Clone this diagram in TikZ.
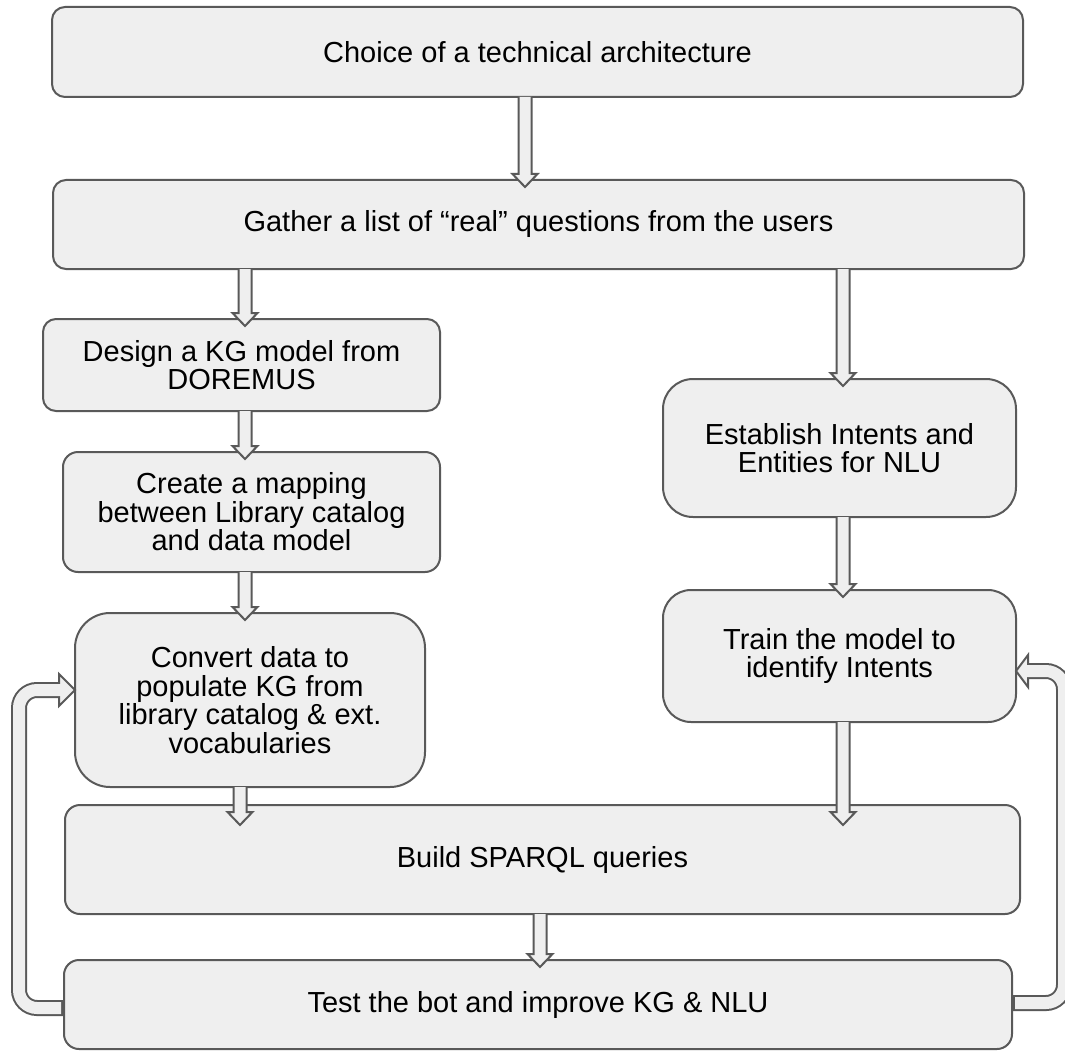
\documentclass[tikz,border=0pt]{standalone}
\usepackage{fontspec}
\setmainfont{Liberation Sans}
\usetikzlibrary{calc}
\definecolor{boxfill}{HTML}{EFEFEF}
\definecolor{bord}{HTML}{595959}
\tikzset{
  box/.style={draw=bord, fill=boxfill, line width=2pt, rounded corners=13pt,
    align=center, inner sep=0pt, outer sep=0pt, text=black,
    font=\fontsize{29}{28.5}\selectfont},
  arr/.style={draw=bord, fill=boxfill, line width=2pt, line join=miter},
}
% vertical block arrow: #1 x, #2 from node, #3 to node, #4 overshoot
\newcommand\varrow[4]{%
  \filldraw[arr] let \p1=(#2.south), \p2=(#3.north) in
   (#1pt-6.5pt,\y1) -- (#1pt-6.5pt,\y2-#4pt+13pt) -- (#1pt-12.5pt,\y2-#4pt+13pt)
   -- (#1pt,\y2-#4pt) -- (#1pt+12.5pt,\y2-#4pt+13pt) -- (#1pt+6.5pt,\y2-#4pt+13pt)
   -- (#1pt+6.5pt,\y1);}
\begin{document}
\begin{tikzpicture}[x=1pt,y=-1pt]
\useasboundingbox (0,0) rectangle (1065,1051);
% loop connector coordinates
\coordinate (lstart) at (64,1008);
\coordinate (rstart) at (1012,1003);
% loops (drawn beneath boxes)
\draw[bord, line width=16pt, rounded corners=18pt] (lstart) -- (19,1008) -- (19,690) -- (59,690);
\draw[bord, line width=16pt, rounded corners=18pt] (rstart) -- (1064,1003) -- (1064,671) -- (1028,671);
% boxes
\node[box, minimum width=971, minimum height=90] (b1) at (537.5,52) {Choice of a technical architecture};
\node[box, minimum width=971, minimum height=89] (b2) at (538.5,224.5) {Gather a list of “real” questions from the users};
\node[box, minimum width=397, minimum height=92] (b3) at (241.5,365) {Design a KG model from\\DOREMUS};
\node[box, minimum width=377, minimum height=120, rounded corners=15pt] (b4) at (251.5,512) {Create a mapping\\between Library catalog\\and data model};
\node[box, minimum width=350, minimum height=174, rounded corners=35pt] (b5) at (250,700) {Convert data to\\populate KG from\\library catalog \& ext.\\vocabularies};
\node[box, minimum width=353, minimum height=138, rounded corners=30pt] (b6) at (839.5,448) {Establish Intents and\\Entities for NLU};
\node[box, minimum width=353, minimum height=132, rounded corners=28pt] (b7) at (839.5,656) {Train the model to\\identify Intents};
\node[box, minimum width=955, minimum height=109, rounded corners=15pt] (b8) at (542.5,859.5) {Build SPARQL queries};
\node[box, minimum width=948, minimum height=89, rounded corners=15pt] (b9) at (538,1004.5) {Test the bot and improve KG \& NLU};
% loop heads and inner fill
\filldraw[arr] (59,674) -- (b5.west |- 0,690) -- (59,706) -- cycle;
\filldraw[arr] (1028,655) -- (b7.east |- 0,671) -- (1028,687) -- cycle;
\draw[boxfill, line width=12pt, rounded corners=18pt] ([xshift=-3pt]lstart) -- (19,1008) -- (19,690) -- (61,690);
\draw[boxfill, line width=12pt, rounded corners=18pt] ([xshift=3pt]rstart) -- (1064,1003) -- (1064,671) -- (1026,671);
% vertical arrows
\varrow{525}{b1}{b2}{7}
\varrow{245}{b2}{b3}{7}
\varrow{843}{b2}{b6}{7}
\varrow{245}{b3}{b4}{7}
\varrow{245}{b4}{b5}{7}
\varrow{240}{b5}{b8}{20}
\varrow{843}{b6}{b7}{7}
\varrow{843}{b7}{b8}{20}
\varrow{540}{b8}{b9}{7}
\end{tikzpicture}
\end{document}
